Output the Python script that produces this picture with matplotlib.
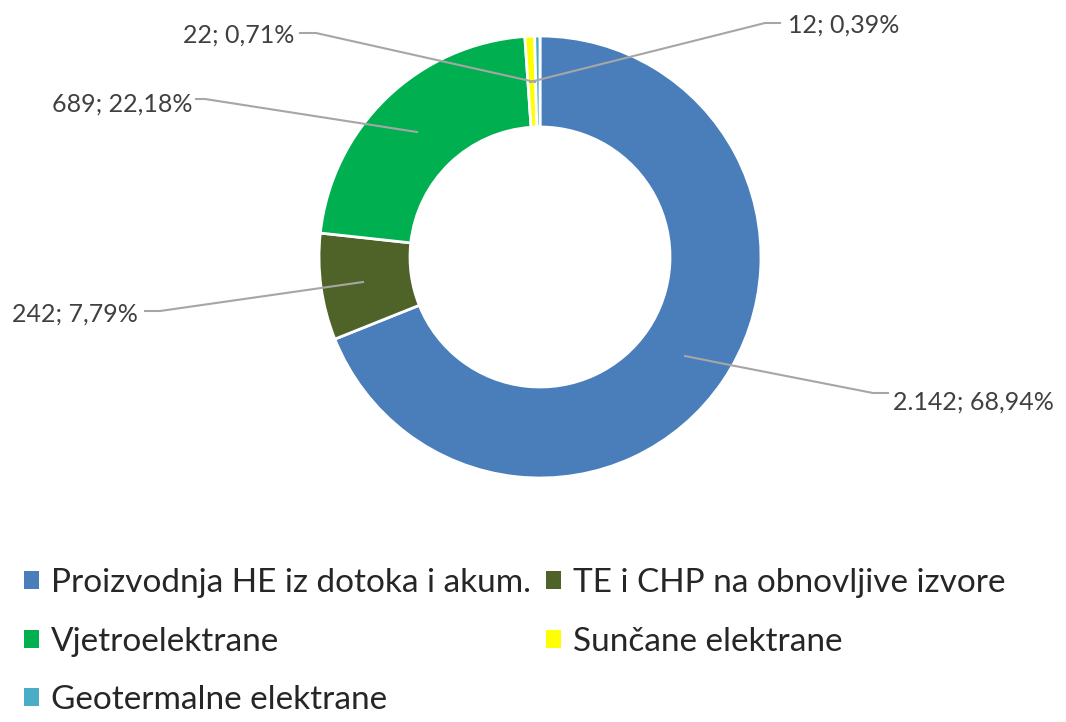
import matplotlib.pyplot as plt
from matplotlib.patches import Patch

# data
categories = ["Proizvodnja HE iz dotoka i akum.", "TE i CHP na obnovljive izvore",
              "Vjetroelektrane", "Sunčane elektrane", "Geotermalne elektrane"]
values = [2142, 242, 689, 22, 12]
value_labels = ["2.142; 68,94%", "242; 7,79%", "689; 22,18%", "22; 0,71%", "12; 0,39%"]
colors = ["#4a7ebb", "#4f6228", "#00b050", "#ffff00", "#4bacc6"]

plt.rcParams['font.family'] = ['Lato', 'DejaVu Sans']

W, H = 1066, 722
fig = plt.figure(figsize=(W / 100, H / 100), dpi=100)
ax = fig.add_axes([0, 0, 1, 1])

cx, cy = 540, H - 257
R = 221
wedges, _ = ax.pie(values, colors=colors, startangle=90, counterclock=False,
                   radius=R, center=(cx, cy),
                   wedgeprops=dict(width=91, edgecolor="white", linewidth=2))

ax.set_xlim(0, W)
ax.set_ylim(0, H)
ax.set_aspect("equal")
ax.axis("off")

# label positions (pixel coords from top-left) and leader lines
txt_color = "#404040"
line_color = "#a6a6a6"
label_pos = [
    (893, 402, "left", [(685, 356), (730, 365), (873, 393), (888, 393)]),
    (138, 314, "right", [(363, 282), (160, 311), (145, 311)]),
    (192, 104, "right", [(417, 132), (205, 99), (196, 99)]),
    (294, 35, "right", [(535, 82), (316, 33), (300, 33)]),
    (788, 25, "left", [(530, 82), (765, 23), (780, 23)]),
]
for lab, (x, y, ha, pts) in zip(value_labels, label_pos):
    xs = [p[0] for p in pts]
    ys = [H - p[1] for p in pts]
    ax.plot(xs, ys, color=line_color, lw=1.5, zorder=3)
    ax.text(x, H - y, lab, ha=ha, va="center", fontsize=18, color=txt_color)

# legend, row-major order
order = [0, 2, 4, 1, 3]
handles = [Patch(facecolor=colors[i], edgecolor="none") for i in order]
names = [categories[i] for i in order]
ax.legend(handles, names, ncol=2, loc="upper left", bbox_to_anchor=(-0.006, 0.255),
          frameon=False, fontsize=24, handlelength=0.45, handleheight=0.45,
          handletextpad=0.36, columnspacing=0.45, labelspacing=0.86,
          labelcolor="#262626")

fig.savefig("out.png", dpi=100)
